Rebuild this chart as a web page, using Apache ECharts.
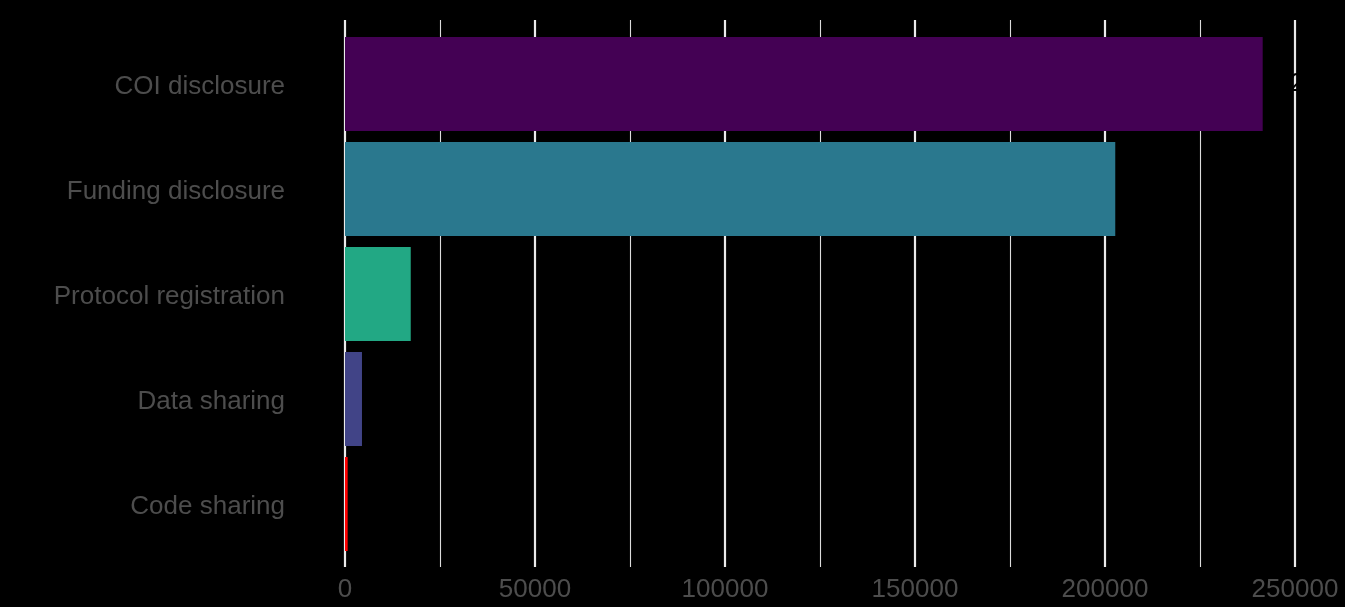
<!DOCTYPE html>
<html>
<head>
<meta charset="utf-8">
<script src="https://cdn.jsdelivr.net/npm/echarts@6/dist/echarts.min.js"></script>
<style>
html,body{margin:0;padding:0;background:#000;}
#chart{width:1345px;height:607px;}
</style>
</head>
<body>
<div id="chart"></div>
<script>
// Data (top to bottom)
const categories = ["COI disclosure", "Funding disclosure", "Protocol registration", "Data sharing", "Code sharing"];
const values = [241500, 202700, 17300, 4470, 700];
const barColors = ["#440154", "#2A788E", "#22A884", "#414487", "#FF0000"];
const xTicks = [0, 50000, 100000, 150000, 200000, 250000];

const FONT = "Liberation Sans, Arial, Helvetica, sans-serif";
const chart = echarts.init(document.getElementById('chart'));

const xMin = xTicks[0], xMax = xTicks[xTicks.length - 1], xStep = xTicks[1] - xTicks[0];

chart.setOption({
  backgroundColor: '#000000',
  animation: false,
  grid: [
    { left: 345, right: 50, top: 20, bottom: 40 },
    { left: 345, right: 50, top: 31.5, bottom: 50.5 }
  ],
  xAxis: [
    {
      gridIndex: 0, type: 'value', min: xMin, max: xMax, interval: xStep,
      axisLine: { show: false }, axisTick: { show: false },
      axisLabel: { color: '#4d4d4d', fontSize: 26, fontFamily: FONT, margin: 10,
        formatter: v => String(v) },
      splitLine: { show: true, showMinLine: true, showMaxLine: true, lineStyle: { color: '#ebebeb', width: 2.2 } },
      minorTick: { show: false, splitNumber: 2 },
      minorSplitLine: { show: true, lineStyle: { color: '#dcdcdc', width: 1.1 } }
    },
    {
      gridIndex: 1, type: 'value', min: xMin, max: xMax, interval: xStep, show: false,
      splitLine: { show: false }
    }
  ],
  yAxis: [
    {
      gridIndex: 0, type: 'category', data: categories, show: false
    },
    {
      gridIndex: 1, type: 'category', data: categories, inverse: true,
      axisLine: { show: false }, axisTick: { show: false },
      axisLabel: { margin: 60, formatter: v => '{a|' + v + '}',
        rich: { a: { color: '#4d4d4d', fontSize: 26, fontFamily: FONT, padding: [5, 0, 0, 0] } } },
      splitLine: { show: false }
    }
  ],
  series: [
    {
      type: 'bar', xAxisIndex: 1, yAxisIndex: 1, barWidth: '89.5%',
      data: values.map((v, i) => ({
        value: v,
        itemStyle: { color: barColors[i] },
        label: i === 0 ? {
          show: true, position: 'right', distance: 27, color: '#000000',
          fontSize: 26, fontFamily: FONT
        } : { show: false }
      }))
    }
  ]
});
</script>
</body>
</html>
